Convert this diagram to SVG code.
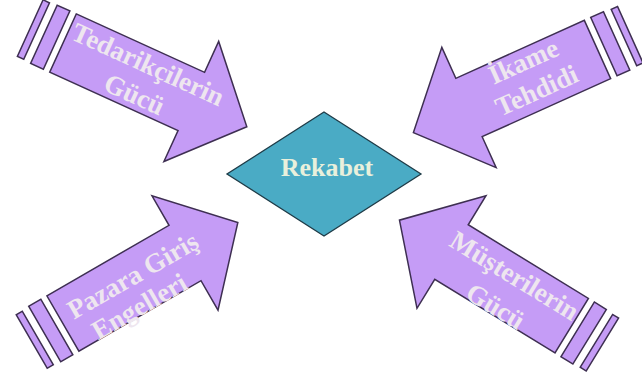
<svg xmlns="http://www.w3.org/2000/svg" xmlns:xlink="http://www.w3.org/1999/xlink" width="642" height="383" viewBox="0 0 642 383">
<style>
.ar{fill:#c59cf6;stroke:#3e2f52;stroke-width:1.5;stroke-linejoin:miter}
.lbl{font-family:"Liberation Serif","Times New Roman",serif;font-weight:bold;font-size:27px;fill:#eee6ef;text-anchor:middle}
.dia{fill:#4aabc5;stroke:#1e3b47;stroke-width:1.3}
.ctr{font-family:"Liberation Serif","Times New Roman",serif;font-weight:bold;font-size:26px;fill:#e9f0dc;text-anchor:middle}
</style>
<defs>
<g id="arrow">
<polygon class="ar" points="0,-32 141,-32 141,-66 202,0 141,66 141,32 0,32"/>
<polygon class="ar" points="-21,-32 -7,-32 -7,32 -21,32"/>
<polygon class="ar" points="-36,-31 -29,-31 -29,31 -36,31"/>
</g>
</defs>
<rect width="642" height="383" fill="#ffffff"/>
<g id="rekabet">
<polygon class="dia" points="324,112 421,174 324,236 227,174"/>
<text class="ctr" x="327" y="176">Rekabet</text>
</g>
<g id="tedarikcilerin-gucu">
<use href="#arrow" xlink:href="#arrow" transform="translate(63,43) rotate(24.5)"/>
<g transform="translate(141.5,79) rotate(24.5)">
<text class="lbl" x="0" y="-7">Tedarikçilerin</text>
<text class="lbl" x="0" y="26">Gücü</text>
</g>
</g>
<g id="ikame-tehdidi">
<use href="#arrow" xlink:href="#arrow" transform="translate(597.5,49.5) rotate(155.7)"/>
<g transform="translate(530,76) rotate(-24.3)">
<text class="lbl" x="0" y="-7">İkame</text>
<text class="lbl" x="0" y="25" font-size="26">Tehdidi</text>
</g>
</g>
<g id="pazara-giris-engelleri">
<use href="#arrow" xlink:href="#arrow" transform="translate(62.9,323.5) rotate(-30)"/>
<g transform="translate(136,291) rotate(-30)">
<text class="lbl" x="5" y="-6">Pazara Giriş</text>
<text class="lbl" x="-5" y="24">Engelleri</text>
</g>
</g>
<g id="musterilerin-gucu">
<use href="#arrow" xlink:href="#arrow" transform="translate(571.7,325.7) rotate(211.5)"/>
<g transform="translate(505,291) rotate(31.5)">
<text class="lbl" x="0" y="-9">Müşterilerin</text>
<text class="lbl" x="0" y="27">Gücü</text>
</g>
</g>
</svg>
